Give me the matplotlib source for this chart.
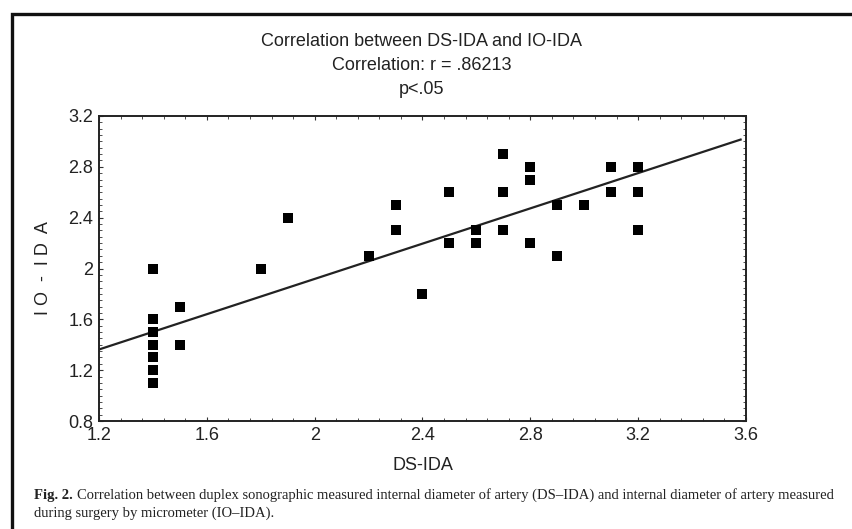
import numpy as np
import matplotlib
matplotlib.use("Agg")
import matplotlib.pyplot as plt
from matplotlib.ticker import MultipleLocator
from matplotlib.patches import Rectangle

# DS-IDA (x) vs IO-IDA (y), one entry per patient
ds_ida = [1.4, 1.4, 1.4, 1.4, 1.4, 1.4, 1.4,
          1.5, 1.5, 1.8, 1.9, 2.2, 2.3, 2.3, 2.4,
          2.5, 2.5, 2.6, 2.6, 2.7, 2.7, 2.7,
          2.8, 2.8, 2.8, 2.9, 2.9, 3.0,
          3.1, 3.1, 3.2, 3.2, 3.2]
io_ida = [2.0, 1.6, 1.5, 1.4, 1.3, 1.2, 1.1,
          1.7, 1.4, 2.0, 2.4, 2.1, 2.5, 2.3, 1.8,
          2.6, 2.2, 2.3, 2.2, 2.9, 2.6, 2.3,
          2.8, 2.7, 2.2, 2.5, 2.1, 2.5,
          2.8, 2.6, 2.8, 2.6, 2.3]

# fitted regression line (intercept, slope)
fit_intercept = 0.53
fit_slope = 0.694

x_ticks = [1.2, 1.6, 2.0, 2.4, 2.8, 3.2, 3.6]
y_ticks = [0.8, 1.2, 1.6, 2.0, 2.4, 2.8, 3.2]
x_labels = ["1.2", "1.6", "2", "2.4", "2.8", "3.2", "3.6"]
y_labels = ["0.8", "1.2", "1.6", "2", "2.4", "2.8", "3.2"]

title_lines = ["Correlation between DS-IDA and IO-IDA",
               "Correlation: r = .86213",
               "p<.05"]
caption_bold = "Fig. 2."
caption_line1 = ("Correlation between duplex sonographic measured internal diameter of artery (DS\u2013IDA) "
                 "and internal diameter of artery measured")
caption_line2 = "during surgery by micrometer (IO\u2013IDA)."

plt.rcParams['font.family'] = ['Liberation Sans', 'DejaVu Sans']

W, H = 853, 529
fig = plt.figure(figsize=(W / 100, H / 100), dpi=100)
fig.patch.set_facecolor("white")

# outer frame around the figure panel
fig.patches.append(Rectangle((12 / W, -0.1), 1.2, 1 - 14 / H + 0.1,
                             transform=fig.transFigure, fill=False,
                             edgecolor="#111111", linewidth=2.4))

ax = fig.add_axes([99 / W, 1 - 421 / H, (746 - 99) / W, (421 - 116) / H])

ax.scatter(ds_ida, io_ida, marker="s", s=50, color="black", linewidths=0, zorder=3)

xs = np.array([1.2, 3.58])
ax.plot(xs, fit_intercept + fit_slope * xs, color="#222222", linewidth=1.6, zorder=2)

ax.set_xlim(1.2, 3.6)
ax.set_ylim(0.8, 3.2)
ax.set_xticks(x_ticks)
ax.set_xticklabels(x_labels)
ax.set_yticks(y_ticks)
ax.set_yticklabels(y_labels)
ax.xaxis.set_minor_locator(MultipleLocator(0.08))
ax.yaxis.set_minor_locator(MultipleLocator(0.05))
ax.tick_params(which="both", direction="in", top=True, right=True,
               colors="#333333", labelcolor="#222222", labelsize=13)
ax.tick_params(which="major", length=3, width=0.8, pad=4)
ax.tick_params(which="minor", length=2, width=0.6)
for s in ax.spines.values():
    s.set_linewidth(1.4)
    s.set_color("#222222")

ax.set_xlabel("DS-IDA", fontsize=13, color="#222222", labelpad=10)
ax.set_ylabel("I O  -  I D  A", fontsize=13, color="#222222", labelpad=12)

for txt, yp in zip(title_lines, [42, 65, 89]):
    fig.text(422 / W, 1 - yp / H, txt, ha="center", va="center",
             fontsize=13, color="#222222")

# caption: bold figure number followed by the description
cap_size = 10.55
t_bold = fig.text(34 / W, 1 - 495 / H, caption_bold, ha="left", va="center",
                  fontsize=cap_size, fontweight="bold", family="Liberation Serif",
                  color="#222222")
fig.canvas.draw()
bb = t_bold.get_window_extent()
fig.text((bb.x1 + 4) / W, 1 - 495 / H, caption_line1, ha="left", va="center",
         fontsize=cap_size, family="Liberation Serif", color="#222222")
fig.text(34 / W, 1 - 513 / H, caption_line2, ha="left", va="center",
         fontsize=cap_size, family="Liberation Serif", color="#222222")

fig.savefig("out.png", dpi=100)
